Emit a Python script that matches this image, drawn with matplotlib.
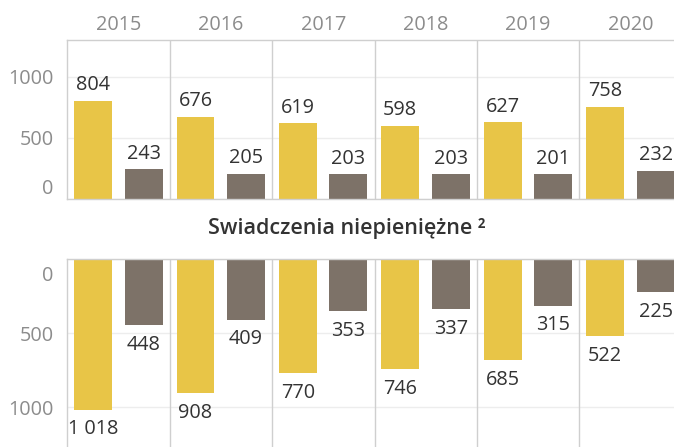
import matplotlib
matplotlib.use("Agg")
import matplotlib.pyplot as plt
import matplotlib.transforms as mtransforms
import numpy as np

plt.rcParams['font.family'] = ['Open Sans', 'DejaVu Sans']

years = ["2015", "2016", "2017", "2018", "2019", "2020"]
top_yellow = [804, 676, 619, 598, 627, 758]
top_gray = [243, 205, 203, 203, 201, 232]
bot_yellow = [1018, 908, 770, 746, 685, 522]
bot_gray = [448, 409, 353, 337, 315, 225]
bot_title = "Swiadczenia niepieniężne ²"

YELLOW = "#E8C547"
GRAY = "#7D7268"
TXT = "#333333"
TICK = "#8C8C8C"
BORDER = "#CFCFCF"
GRID = "#EDEDED"
FS = 14.3

W, H = 674, 447
fig = plt.figure(figsize=(W / 100, H / 100), dpi=100)

left = 67.3 / W
width = 614.4 / W

ax1 = fig.add_axes([left, 1 - 199 / H, width, (199 - 40) / H])
ax2 = fig.add_axes([left, 0, width, (447 - 259) / H])

x = np.arange(len(years))
xy = x + 0.252
xg = x + 0.745
bw = 0.37

def fmt(v):
    return f"{v:,}".replace(",", " ")

for ax in (ax1, ax2):
    ax.set_xlim(0, 6)
    ax.set_xticks([])
    for sp in ax.spines.values():
        sp.set_color(BORDER)
        sp.set_linewidth(1)
    ax.spines['right'].set_visible(False)
    for i in range(1, 7):
        ax.axvline(i, color=BORDER, lw=1, zorder=1)
    ax.tick_params(axis='y', length=0, pad=10, labelsize=FS, labelcolor=TICK)
    ax.yaxis.grid(True, color=GRID, lw=1)
    ax.set_axisbelow(True)

# Top panel
ax1.set_ylim(0, 1303)
ax1.bar(xy, top_yellow, width=bw, color=YELLOW, zorder=2)
ax1.bar(xg, top_gray, width=bw, color=GRAY, zorder=2)
ax1.set_yticks([0, 500, 1000])
ax1.set_yticklabels(["0", "500", "1000"])
ax1.yaxis.get_major_ticks()[0].label1.set_va('bottom')
for xi, v in zip(xy, top_yellow):
    ax1.annotate(fmt(v), (xi, v), xytext=(0, 4), textcoords='offset points',
                 ha='center', va='bottom', fontsize=FS, color=TXT)
for xi, v in zip(xg, top_gray):
    ax1.annotate(fmt(v), (xi, v), xytext=(0, 4), textcoords='offset points',
                 ha='center', va='bottom', fontsize=FS, color=TXT)
for i, yr in enumerate(years):
    ax1.text(i + 0.5, 1.0 + 15 / 159, yr, transform=ax1.get_xaxis_transform(),
             ha='center', va='center', fontsize=FS, color=TICK)

# Bottom panel
ax2.set_ylim(1270, 0)
ax2.bar(xy, bot_yellow, width=bw, color=YELLOW, zorder=2)
ax2.bar(xg, bot_gray, width=bw, color=GRAY, zorder=2)
ax2.set_yticks([0, 500, 1000])
ax2.set_yticklabels(["0", "500", "1000"])
zlab = ax2.yaxis.get_major_ticks()[0].label1
zlab.set_va('center')
zlab.set_transform(zlab.get_transform() +
                   mtransforms.ScaledTranslation(0, -17 / 100, fig.dpi_scale_trans))
ax2.spines['bottom'].set_visible(False)
for xi, v in zip(xy, bot_yellow):
    ax2.annotate(fmt(v), (xi, v), xytext=(0, -7), textcoords='offset points',
                 ha='center', va='top', fontsize=FS, color=TXT)
for xi, v in zip(xg, bot_gray):
    ax2.annotate(fmt(v), (xi, v), xytext=(0, -7), textcoords='offset points',
                 ha='center', va='top', fontsize=FS, color=TXT)

fig.text(347 / W, 1 - 228 / H, bot_title, ha='center', va='center',
         fontsize=15.5, fontweight='semibold', color=TXT)

fig.savefig("out.png", dpi=100)
